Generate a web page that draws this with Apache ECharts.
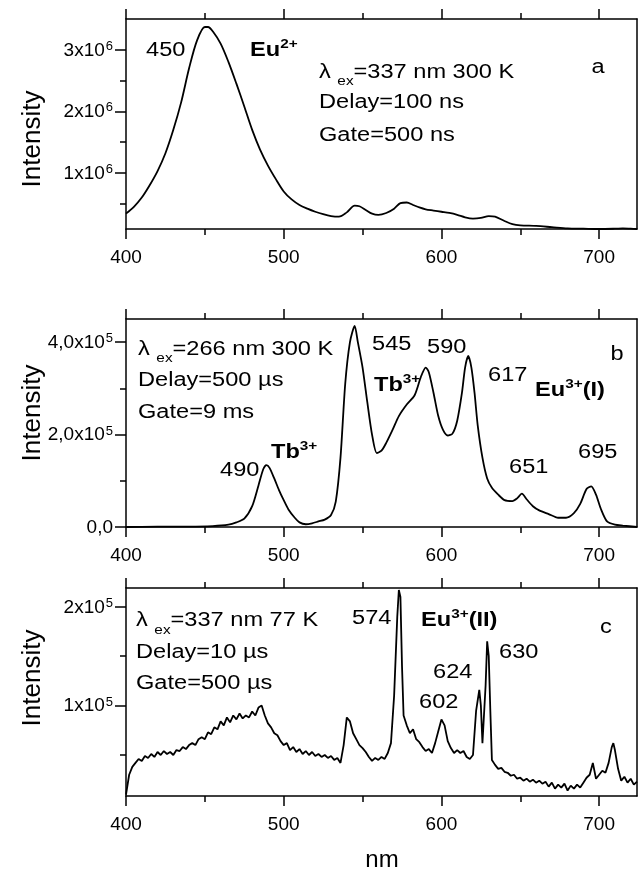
<!DOCTYPE html>
<html><head><meta charset="utf-8">
<script src="https://cdn.jsdelivr.net/npm/echarts@6/dist/echarts.min.js"></script>
<style>html,body{margin:0;padding:0;background:#fff}#c{width:638px;height:874px}</style>
</head><body><div id="c"></div>
<script>
// ---------- data ----------
const xMin = 400, xMax = 724;
const xMajorTicks = [400, 500, 600, 700];
const xMinorTicks = [450, 550, 650];

// panel a  (intensity in units of 1e6)
const nmA = [400,405,410,415,420,425,430,435,440,445,450,452,455,460,465,470,475,480,485,490,495,500,505,510,515,520,525,530,535,540,545,548,552,556,560,565,570,574,578,582,586,590,595,600,605,610,615,620,625,630,634,640,645,650,660,670,680,690,700,710,715,720,724];
const intA = [0.34,0.45,0.60,0.80,1.03,1.32,1.70,2.15,2.70,3.15,3.37,3.37,3.30,3.10,2.80,2.45,2.08,1.70,1.38,1.12,0.90,0.70,0.57,0.48,0.42,0.37,0.33,0.30,0.29,0.36,0.47,0.46,0.40,0.34,0.32,0.35,0.42,0.51,0.52,0.48,0.44,0.41,0.39,0.37,0.35,0.32,0.28,0.26,0.27,0.30,0.29,0.22,0.17,0.15,0.14,0.12,0.10,0.095,0.09,0.095,0.10,0.095,0.09];
const yRangeA = [0.09e6, 3.5e6];
const yMajorA = [1e6, 2e6, 3e6];
const yMinorA = [0.5e6, 1.5e6, 2.5e6];

// panel b  (intensity in units of 1e5)
const nmB = [400,420,440,455,465,470,475,480,484,487,489,491,494,497,500,503,507,510,514,518,522,526,530,533,536,539,542,545,547,550,553,556,559,562,565,569,573,578,583,587,590,592,595,598,601,604,607,610,613,615,617,619,621,623,626,629,632,636,640,645,648,651,654,658,662,668,674,679,684,688,692,695,698,701,705,710,715,724];
const intB = [0.0,0.01,0.01,0.02,0.05,0.10,0.18,0.45,0.90,1.25,1.34,1.28,1.05,0.80,0.58,0.38,0.20,0.10,0.06,0.08,0.12,0.16,0.26,0.55,1.5,3.1,4.0,4.35,4.0,3.45,2.7,2.0,1.6,1.65,1.82,2.1,2.4,2.65,2.85,3.25,3.45,3.35,2.9,2.4,2.1,1.98,2.02,2.3,2.9,3.45,3.7,3.45,2.9,2.2,1.5,1.05,0.85,0.7,0.58,0.56,0.62,0.72,0.6,0.45,0.36,0.28,0.2,0.2,0.3,0.5,0.82,0.88,0.7,0.4,0.12,0.05,0.03,0.0];
const yRangeB = [0, 4.5e5];
const yMajorB = [0, 2e5, 4e5];
const yMinorB = [1e5, 3e5];

// panel c  (intensity in units of 1e5)
const nmC = [400,402,404,406,408,410,412,414,416,418,
 420,422,424,426,428,430,432,434,436,438,
 440,442,444,446,448,450,452,454,456,458,
 460,462,464,466,468,470,472,474,476,478,
 480,482,484,486,488,490,492,494,496,498,
 500,502,504,506,508,510,512,514,516,518,
 520,522,524,526,528,530,532,534,536,538,
 540,542,544,546,548,550,552,554,556,558,
 560,562,564,566,568,570,572,573,574,575,
 576,578,580,582,584,586,588,590,592,594,
 596,598,600,602,604,606,608,610,612,614,
 616,618,620,622,624,625,626,628,629,630,
 631,632,634,636,638,640,642,644,646,648,
 650,652,654,656,658,660,662,664,666,668,
 670,672,674,676,678,680,682,684,686,688,
 690,692,694,696,698,700,702,704,706,708,
 709,710,712,714,716,718,720,722,724];
const intC = [0.10,0.30,0.38,0.42,0.46,0.44,0.49,0.47,0.51,0.48,
 0.53,0.50,0.54,0.51,0.53,0.50,0.55,0.54,0.58,0.56,
 0.60,0.62,0.60,0.66,0.68,0.66,0.73,0.71,0.78,0.76,
 0.84,0.80,0.88,0.83,0.90,0.86,0.92,0.87,0.90,0.88,
 0.94,0.90,0.98,1.00,0.90,0.82,0.78,0.72,0.70,0.64,
 0.60,0.62,0.55,0.58,0.53,0.56,0.51,0.54,0.50,0.53,
 0.49,0.51,0.48,0.50,0.47,0.49,0.45,0.47,0.42,0.60,
 0.88,0.84,0.72,0.66,0.60,0.57,0.53,0.48,0.44,0.47,
 0.45,0.48,0.46,0.52,0.62,1.10,1.90,2.17,2.10,1.40,
 0.90,0.80,0.72,0.76,0.66,0.63,0.58,0.54,0.56,0.52,
 0.62,0.74,0.86,0.80,0.64,0.57,0.52,0.55,0.52,0.54,
 0.48,0.46,0.50,0.95,1.16,1.00,0.62,1.20,1.65,1.50,
 0.95,0.45,0.40,0.36,0.37,0.33,0.32,0.29,0.30,0.26,
 0.27,0.24,0.26,0.23,0.25,0.22,0.24,0.21,0.23,0.18,
 0.22,0.16,0.20,0.17,0.21,0.14,0.19,0.16,0.20,0.17,
 0.22,0.27,0.30,0.42,0.26,0.30,0.34,0.32,0.42,0.58,
 0.62,0.55,0.36,0.24,0.28,0.22,0.26,0.20,0.23];
const yRangeC = [0.085e5, 2.19e5];
const yMajorC = [1e5, 2e5];
const yMinorC = [0.5e5, 1.5e5];

// ---------- styling ----------
const fam = '"Liberation Sans", Arial, Helvetica, sans-serif';
const BLACK = '#000';
const LW = 1.5;
const gridPos = [
  {left: 126, right: 1, top: 19, height: 210},
  {left: 126, right: 1, top: 319, height: 208},
  {left: 126, right: 1, top: 588, height: 208}
];

const xAxes = [], yAxes = [], series = [];
function xAxis(gi, pos, ticks, len, labels) {
  return {
    type: 'value', gridIndex: gi, position: pos, min: xMin, max: xMax,
    axisLine: {show: labels !== null, onZero: false, lineStyle: {color: BLACK, width: LW}},
    axisTick: {show: true, inside: false, length: len, customValues: ticks, lineStyle: {color: BLACK, width: LW}},
    axisLabel: labels ? {show: true, customValues: xMajorTicks, fontSize: 19, fontFamily: fam, color: BLACK, margin: 19} : {show: false},
    splitLine: {show: false}
  };
}
const yLabelRich = {
  b: {fontSize: 19, fontFamily: fam, color: BLACK, lineHeight: 20, verticalAlign: 'bottom'},
  s: {fontSize: 13, fontFamily: fam, color: BLACK, lineHeight: 14, padding: [0, 0, 12, 1], verticalAlign: 'top'}
};
function yAxesFor(gi, range, major, minor, fmt) {
  yAxes.push({
    type: 'value', gridIndex: gi, position: 'left', min: range[0], max: range[1],
    axisLine: {show: true, onZero: false, lineStyle: {color: BLACK, width: LW}},
    axisTick: {show: true, inside: false, length: 11, customValues: major, lineStyle: {color: BLACK, width: LW}},
    axisLabel: {show: true, customValues: major, formatter: fmt, rich: yLabelRich, margin: 13},
    splitLine: {show: false}
  });
  yAxes.push({
    type: 'value', gridIndex: gi, position: 'left', min: range[0], max: range[1],
    axisLine: {show: false},
    axisTick: {show: true, inside: false, length: 6, customValues: minor, lineStyle: {color: BLACK, width: LW}},
    axisLabel: {show: false}, splitLine: {show: false}
  });
  yAxes.push({
    type: 'value', gridIndex: gi, position: 'right', min: range[0], max: range[1],
    axisLine: {show: true, onZero: false, lineStyle: {color: BLACK, width: LW}},
    axisTick: {show: false}, axisLabel: {show: false}, splitLine: {show: false}
  });
}
const panels = [
  {nm: nmA, v: intA, scale: 1e6, range: yRangeA, major: yMajorA, minor: yMinorA,
   fmt: v => '{b|' + Math.round(v / 1e6) + 'x10}{s|6}', smooth: 0.3},
  {nm: nmB, v: intB, scale: 1e5, range: yRangeB, major: yMajorB, minor: yMinorB,
   fmt: v => v === 0 ? '{b|0,0}' : '{b|' + (v / 1e5).toFixed(1).replace('.', ',') + 'x10}{s|5}', smooth: 0.25},
  {nm: nmC, v: intC, scale: 1e5, range: yRangeC, major: yMajorC, minor: yMinorC,
   fmt: v => '{b|' + Math.round(v / 1e5) + 'x10}{s|5}', smooth: false}
];
panels.forEach((p, gi) => {
  const xi = xAxes.length;
  xAxes.push(xAxis(gi, 'bottom', xMajorTicks, 10, true));
  xAxes.push(xAxis(gi, 'bottom', xMinorTicks, 6, null));
  xAxes.push(xAxis(gi, 'top', xMajorTicks, 10, false));
  xAxes.push(xAxis(gi, 'top', xMinorTicks, 6, null));
  const yi = yAxes.length;
  yAxesFor(gi, p.range, p.major, p.minor, p.fmt);
  series.push({
    type: 'line', xAxisIndex: xi, yAxisIndex: yi, showSymbol: false, symbol: 'none',
    smooth: p.smooth, animation: false,
    lineStyle: {color: BLACK, width: 1.8},
    data: p.nm.map((x, i) => [x, p.v[i] * p.scale])
  });
});

// ---------- annotations ----------
const RICH = {
  n:  {fontSize: 20, fontFamily: fam, color: BLACK, lineHeight: 22},
  nt: {fontSize: 20, fontFamily: fam, color: BLACK, lineHeight: 22, verticalAlign: 'top'},
  sb: {fontSize: 13, fontFamily: fam, color: BLACK, lineHeight: 14, padding: [13, 0, 0, 0], verticalAlign: 'top'},
  nb: {fontSize: 20, fontFamily: fam, fontWeight: 'bold', color: BLACK, lineHeight: 22, verticalAlign: 'bottom'},
  sp: {fontSize: 13, fontFamily: fam, fontWeight: 'bold', color: BLACK, lineHeight: 14, padding: [0, 0, 14, 0], verticalAlign: 'top'}
};
function T(x, y, text, align, sx) {
  return {
    type: 'text', x: x, y: y, scaleX: sx === undefined ? 1.18 : sx, silent: true,
    style: {text: text, rich: RICH, fill: BLACK, font: '20px ' + fam,
      align: align || 'left', textAlign: align || 'left', verticalAlign: 'middle', textVerticalAlign: 'middle'}
  };
}
function V(x, y, text) {
  return {type: 'text', x: x, y: y, rotation: Math.PI / 2, silent: true,
   style: {text: text, fill: BLACK, font: '26px ' + fam, align: 'center', textAlign: 'center', verticalAlign: 'middle', textVerticalAlign: 'middle'}};
}
const graphics = [
  // panel a
  T(146, 50, '{n|450}'),
  T(250, 49, '{nb|Eu}{sp|2+}'),
  T(319, 73, '{nt|λ }{sb|ex}{nt|=337 nm 300 K}'),
  T(319, 102.5, '{n|Delay=100 ns}'),
  T(319, 135.5, '{n|Gate=500 ns}'),
  T(598, 67, '{n|a}', 'center'),
  // panel b
  T(138, 350, '{nt|λ }{sb|ex}{nt|=266 nm 300 K}'),
  T(138, 380, '{n|Delay=500 µs}'),
  T(138, 412, '{n|Gate=9 ms}'),
  T(372, 344, '{n|545}'),
  T(427, 347, '{n|590}'),
  T(374, 384, '{nb|Tb}{sp|3+}'),
  T(488, 375, '{n|617}'),
  T(535, 389, '{nb|Eu}{sp|3+}{nb|(I)}'),
  T(617, 354, '{n|b}', 'center'),
  T(220, 470, '{n|490}'),
  T(271, 451, '{nb|Tb}{sp|3+}'),
  T(509, 467, '{n|651}'),
  T(578, 452, '{n|695}'),
  // panel c
  T(136, 621.5, '{nt|λ }{sb|ex}{nt|=337 nm 77 K}'),
  T(136, 652, '{n|Delay=10 µs}'),
  T(136, 683, '{n|Gate=500 µs}'),
  T(352, 618, '{n|574}'),
  T(421, 619, '{nb|Eu}{sp|3+}{nb|(II)}'),
  T(606, 627, '{n|c}', 'center'),
  T(499, 652, '{n|630}'),
  T(433, 672, '{n|624}'),
  T(419, 702, '{n|602}'),
  // axis titles
  V(33, 139, 'Intensity'),
  V(33, 413, 'Intensity'),
  V(33, 678, 'Intensity'),
  {type: 'text', x: 382, y: 860, silent: true,
   style: {text: 'nm', fill: BLACK, font: '24px ' + fam, align: 'center', textAlign: 'center', verticalAlign: 'middle', textVerticalAlign: 'middle'}}
];

const chart = echarts.init(document.getElementById('c'), null, {renderer: 'canvas'});
chart.setOption({
  animation: false,
  backgroundColor: '#fff',
  grid: gridPos,
  xAxis: xAxes,
  yAxis: yAxes,
  series: series,
  graphic: graphics
});
</script>
</body></html>
